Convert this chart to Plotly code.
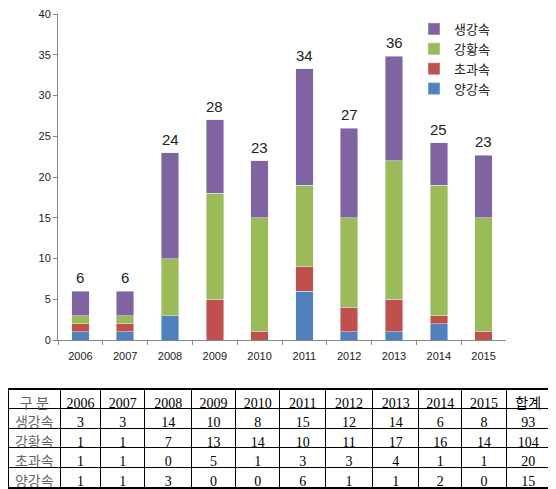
import plotly.graph_objects as go

# the page adds an 8px body margin, so the figure is drawn 8px smaller
OFF = 8
W, H = 556 - OFF, 489 - OFF

years = ["2006", "2007", "2008", "2009", "2010", "2011", "2012", "2013", "2014", "2015"]

# stacked bar segments as drawn in the chart
bar_yg = [1, 1, 3, 0, 0, 6, 1, 1, 2, 0]            # 양강속
bar_cg = [1, 1, 0, 5, 1, 3, 3, 4, 1, 1]            # 초과속
bar_gh = [1, 1, 7, 13, 14, 10, 11, 17, 16, 14]     # 강황속
bar_sg = [3, 3, 13, 9, 7, 14.3, 11, 12.8, 5.2, 7.7]  # 생강속
top_labels = ["6", "6", "24", "28", "23", "34", "27", "36", "25", "23"]

# table below the chart
tbl_header = ["구 분"] + years + ["합계"]
tbl_names = ["생강속", "강황속", "초과속", "양강속"]
tbl_sg = [3, 3, 14, 10, 8, 15, 12, 14, 6, 8, 93]
tbl_gh = [1, 1, 7, 13, 14, 10, 11, 17, 16, 14, 104]
tbl_cg = [1, 1, 0, 5, 1, 3, 3, 4, 1, 1, 20]
tbl_yg = [1, 1, 3, 0, 0, 6, 1, 1, 2, 0, 15]

series = [
    ("양강속", bar_yg, "#4F81BD"),
    ("초과속", bar_cg, "#C0504D"),
    ("강황속", bar_gh, "#9BBB59"),
    ("생강속", bar_sg, "#8064A2"),
]


def px_x(v):
    return max(v - OFF, 0) / W


def px_y(v):
    return 1 - (v - OFF) / H


fig = go.Figure()
for name, vals, col in series:
    fig.add_trace(go.Bar(x=years, y=vals, name=name, marker_color=col))

# total labels above each bar (x given as category index)
totals = [a + b + c + d for a, b, c, d in zip(bar_yg, bar_cg, bar_gh, bar_sg)]
for i, (tot, lab) in enumerate(zip(totals, top_labels)):
    fig.add_annotation(x=i, y=tot, text=lab, showarrow=False, yanchor="bottom",
                       yshift=3, font=dict(size=15, color="#222", family="Liberation Sans"))

rows = [tbl_sg, tbl_gh, tbl_cg, tbl_yg]
cols = [tbl_names] + [[str(r[i]) for r in rows] for i in range(len(tbl_header) - 1)]
tfont = dict(family="Liberation Serif, Noto Sans CJK KR", size=14,
             color=["#666"] + ["black"] * 11)
fig.add_trace(go.Table(
    domain=dict(x=[px_x(4), px_x(550)], y=[px_y(488), px_y(389)]),
    columnwidth=[53, 40, 45, 47, 44, 45, 46, 47, 47, 43, 45, 44],
    header=dict(values=tbl_header, height=19.6, align="center",
                fill_color="white", line=dict(color="black", width=1), font=tfont),
    cells=dict(values=cols, height=19.6, align="center",
               fill_color="white", line=dict(color="black", width=1), font=tfont),
))

fig.add_shape(type="rect", xref="paper", yref="paper",
              x0=px_x(4), x1=px_x(550), y0=px_y(488), y1=px_y(389),
              line=dict(color="black", width=2), layer="above")

fig.update_layout(
    width=W, height=H,
    margin=dict(l=0, r=0, t=0, b=0),
    paper_bgcolor="white", plot_bgcolor="white",
    barmode="stack", bargap=0.61,
    showlegend=True,
    legend=dict(traceorder="reversed", x=px_x(414), xanchor="left", y=px_y(14), yanchor="top",
                font=dict(family="Noto Sans CJK KR", size=13, color="#222"),
                bgcolor="rgba(0,0,0,0)", itemwidth=30, tracegroupgap=0),
    xaxis=dict(type="category", categoryorder="array", categoryarray=years,
               range=[-0.5, len(years) - 0.5], autorange=False,
               domain=[px_x(58), px_x(506)], anchor="y", showgrid=False,
               automargin=False, showline=True, linecolor="#888", linewidth=1,
               ticks="outside", tickson="boundaries", ticklen=4, tickcolor="#888",
               ticklabelstandoff=6,
               tickfont=dict(family="Liberation Sans", size=11, color="#222")),
    yaxis=dict(domain=[px_y(340), px_y(14)], range=[0, 40], dtick=5, showgrid=False,
               automargin=False, showline=True, linecolor="#888", linewidth=1,
               ticks="outside", ticklen=4, tickcolor="#888", ticklabeloverflow="allow",
               tickfont=dict(family="Liberation Sans", size=11, color="#222")),
)

fig.write_html("out.html")
